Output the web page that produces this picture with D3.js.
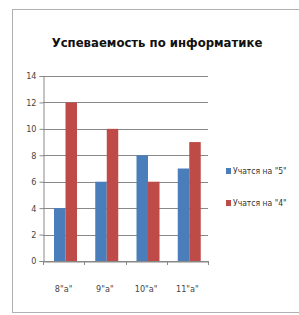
<!DOCTYPE html>
<html>
<head>
<meta charset="utf-8">
<style>
  body { margin: 0; background: #fff; }
  svg text { font-family: "Liberation Sans Narrow", "DejaVu Sans Condensed", "Liberation Sans", sans-serif; }
</style>
</head>
<body>
<div id="chart"></div>
<script src="https://d3js.org/d3.v7.min.js"></script>
<script>
  const classes = ['8"а"', '9"а"', '10"а"', '11"а"'];
  const seriesNames = ['Учатся на "5"', 'Учатся на "4"'];
  const fives = [4, 6, 8, 7];
  const fours = [12, 10, 6, 9];
  const yTicks = [0, 2, 4, 6, 8, 10, 12, 14];
  const colors = ['#4a7ebb', '#be4b48'];

  const width = 299, height = 315;
  const svg = d3.select('#chart').append('svg')
    .attr('width', width)
    .attr('height', height);

  // outer frame of the chart object
  svg.append('rect')
    .attr('x', 12.5).attr('y', 9.5)
    .attr('width', 300).attr('height', 303)
    .attr('fill', '#fff')
    .attr('stroke', '#b0b0b0');

  svg.append('text')
    .attr('x', 157).attr('y', 47)
    .attr('text-anchor', 'middle')
    .attr('font-size', 13)
    .attr('font-weight', 'bold')
    .attr('fill', '#111')
    .text('Успеваемость по информатике');

  const x0 = d3.scaleBand().domain(classes).range([43, 208]);
  const x1 = d3.scaleBand().domain([0, 1]).range([11, 34]);
  const y = d3.scaleLinear().domain([0, 14]).range([261, 76]);

  // gridlines
  svg.append('g')
    .selectAll('line')
    .data(yTicks)
    .join('line')
    .attr('x1', 43).attr('x2', 208)
    .attr('y1', d => Math.round(y(d)) + 0.5)
    .attr('y2', d => Math.round(y(d)) + 0.5)
    .attr('stroke', '#888');

  // y axis
  const yAxis = d3.axisLeft(y).tickValues(yTicks).tickSize(4).tickPadding(3);
  const gy = svg.append('g').attr('transform', 'translate(43.5,0)').call(yAxis);
  gy.select('.domain').attr('stroke', '#888');
  gy.selectAll('.tick line').attr('stroke', '#888');
  gy.selectAll('.tick text').attr('font-size', 9).attr('fill', '#444')
    .attr('font-family', '"Liberation Sans Narrow", "DejaVu Sans Condensed", sans-serif');

  // bars
  const data = classes.map((c, i) => ({ c, vals: [fives[i], fours[i]] }));
  svg.append('g')
    .selectAll('g')
    .data(data)
    .join('g')
    .attr('transform', d => `translate(${x0(d.c)},0)`)
    .selectAll('rect')
    .data(d => d.vals.map((v, k) => ({ v, k })))
    .join('rect')
    .attr('x', d => x1(d.k))
    .attr('width', x1.bandwidth())
    .attr('y', d => y(d.v))
    .attr('height', d => y(0) - y(d.v))
    .attr('fill', d => colors[d.k]);

  // x axis
  const xAxis = d3.axisBottom(x0).tickSize(0).tickPadding(24);
  const gx = svg.append('g').attr('transform', 'translate(0,261.5)').call(xAxis);
  gx.select('.domain').attr('stroke', '#888');
  gx.selectAll('.tick text').attr('font-size', 9).attr('fill', '#444')
    .attr('font-family', '"Liberation Sans Narrow", "DejaVu Sans Condensed", sans-serif');
  // band boundary ticks
  svg.append('g')
    .selectAll('line')
    .data(classes.concat(['end']))
    .join('line')
    .attr('x1', (d, i) => Math.round(i < classes.length ? x0(d) : x0.range()[1]) + 0.5)
    .attr('x2', (d, i) => Math.round(i < classes.length ? x0(d) : x0.range()[1]) + 0.5)
    .attr('y1', 261).attr('y2', 265)
    .attr('stroke', '#888');

  // legend
  const legend = svg.append('g')
    .selectAll('g')
    .data(seriesNames)
    .join('g')
    .attr('transform', (d, i) => `translate(226,${168 + i * 32})`);
  legend.append('rect')
    .attr('width', 5).attr('height', 6)
    .attr('fill', (d, i) => colors[i]);
  legend.append('text')
    .attr('x', 7).attr('y', 6)
    .attr('font-size', 8.5)
    .attr('fill', '#333')
    .text(d => d);
</script>
</body>
</html>
